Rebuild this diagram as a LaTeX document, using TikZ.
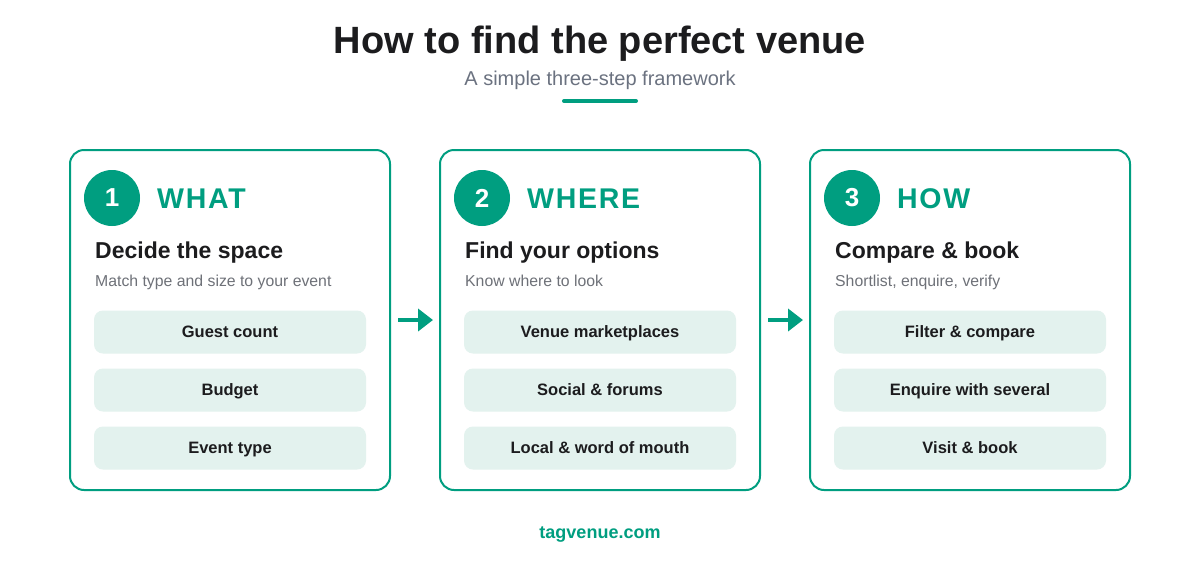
\documentclass[tikz,border=0pt]{standalone}
\usepackage{fontspec}
\setmainfont{Liberation Sans}
\usetikzlibrary{arrows.meta}
\definecolor{teal}{HTML}{009E80}
\definecolor{pillfill}{HTML}{E3F2EE}
\definecolor{ink}{HTML}{1C1C1E}
\definecolor{subgray}{HTML}{6B7280}
\definecolor{mutedgray}{HTML}{6E7178}
\tikzset{
  card/.style={draw=teal, line width=2pt, rounded corners=14pt, fill=white,
    minimum width=320pt, minimum height=340pt, inner sep=0pt},
  numcirc/.style={circle, fill=teal, minimum size=56pt, inner sep=0pt,
    text=white, font=\fontsize{26}{28}\selectfont\bfseries},
  headword/.style={anchor=base west, inner sep=0pt, text=teal,
    font=\fontsize{28.5}{32}\selectfont\bfseries\addfontfeature{LetterSpace=6}},
  cardtitle/.style={anchor=base west, inner sep=0pt, text=ink,
    font=\fontsize{23}{26}\selectfont\bfseries},
  cardsub/.style={anchor=base west, inner sep=0pt, text=mutedgray,
    font=\fontsize{15.8}{18}\selectfont},
  pill/.style={fill=pillfill, rounded corners=9pt, minimum width=272pt,
    minimum height=43pt, inner sep=0pt, text height=11.8pt, text depth=0pt,
    text=ink, font=\fontsize{16.5}{19}\selectfont\bfseries},
  flow/.style={draw=teal, line width=4.5pt, -{Triangle[length=15pt,width=22pt]},
    shorten <=7pt, shorten >=6pt},
}
\newcommand\venuecard[9]{%
  % #1 name, #2 left x, #3 number, #4 heading, #5 title, #6 sub, #7-#9 pills
  \node[card] (#1) at (#2+160,320) {};
  \node[numcirc] (#1n) at (#2+42,198) {#3};
  \node[headword] (#1h) at (#2+87,208) {#4};
  \node[cardtitle] (#1t) at (#2+25,258) {#5};
  \node[cardsub] (#1s) at (#2+25,286) {#6};
  \node[pill] (#1a) at (#2+160,332) {#7};
  \node[pill] (#1b) at (#2+160,390) {#8};
  \node[pill] (#1c) at (#2+160,448) {#9};
}
\begin{document}
\begin{tikzpicture}[x=1pt,y=-1pt]
\useasboundingbox[fill=white] (0,0) rectangle (1200,560);
\node[anchor=base, inner sep=0pt, text=ink, font=\fontsize{38}{42}\selectfont\bfseries]
  (title) at (600,53) {How to find the perfect venue};
\node[anchor=base, inner sep=0pt, text=subgray, font=\fontsize{20}{24}\selectfont]
  (subtitle) at (600,85) {A simple three-step framework};
\draw[teal, line width=4pt, line cap=round] (564,101) coordinate (ul1) -- (636,101) coordinate (ul2);
\venuecard{c1}{70}{1}{WHAT}{Decide the space}{Match type and size to your event}{Guest count}{Budget}{Event type}
\venuecard{c2}{440}{2}{WHERE}{Find your options}{Know where to look}{Venue marketplaces}{Social \& forums}{Local \& word of mouth}
\venuecard{c3}{810}{3}{HOW}{Compare \& book}{Shortlist, enquire, verify}{Filter \& compare}{Enquire with several}{Visit \& book}
\draw[flow] (c1.east) -- (c2.west);
\draw[flow] (c2.east) -- (c3.west);
\node[anchor=base, inner sep=0pt, text=teal, font=\fontsize{18}{22}\selectfont\bfseries]
  (footer) at (600,538) {tagvenue.com};
\end{tikzpicture}
\end{document}
